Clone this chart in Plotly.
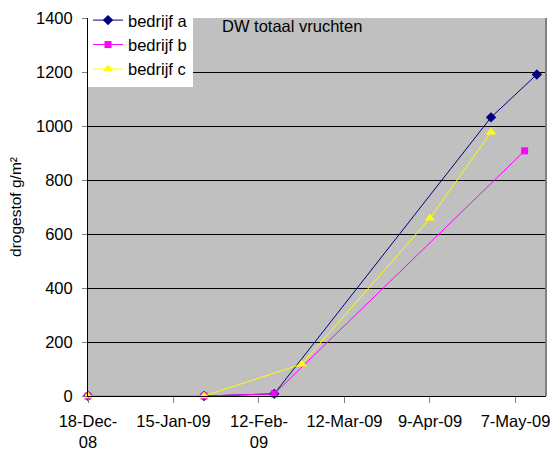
import plotly.graph_objects as go

# data
a_dates = ["2008-12-18", "2009-01-25", "2009-02-17", "2009-04-29", "2009-05-14"]
a_vals = [0, 0, 8, 1032, 1191]
b_dates = ["2008-12-18", "2009-01-25", "2009-02-17", "2009-05-10"]
b_vals = [0, 0, 8, 908]
c_dates = ["2008-12-18", "2009-01-25", "2009-02-26", "2009-04-09", "2009-04-29"]
c_vals = [0, 0, 118, 658, 977]

tick_dates = ["2008-12-18", "2009-01-15", "2009-02-12", "2009-03-12", "2009-04-09", "2009-05-07"]
tick_labels = ["18-Dec-<br>08", "15-Jan-09", "12-Feb-<br>09", "12-Mar-09", "9-Apr-09", "7-May-09"]
x_range = ["2008-12-18", "2009-05-17"]

FONT = "Arial, Liberation Sans, sans-serif"

fig = go.Figure()
fig.add_trace(go.Scatter(x=a_dates, y=a_vals, name="bedrijf a", mode="lines+markers",
                         line=dict(color="#000080", width=1),
                         marker=dict(symbol="diamond", size=8, color="#000080"),
                         cliponaxis=False))
fig.add_trace(go.Scatter(x=b_dates, y=b_vals, name="bedrijf b", mode="lines+markers",
                         line=dict(color="#ff00ff", width=1),
                         marker=dict(symbol="square", size=7, color="#ff00ff"),
                         cliponaxis=False))
fig.add_trace(go.Scatter(x=c_dates, y=c_vals, name="bedrijf c", mode="lines+markers",
                         line=dict(color="#ffff00", width=1),
                         marker=dict(symbol="triangle-up", size=9, color="#ffff00"),
                         cliponaxis=False))

fig.update_layout(
    width=552, height=450, autosize=False,
    margin=dict(l=88, r=6, t=18, b=54, autoexpand=False),
    paper_bgcolor="white", plot_bgcolor="#c0c0c0",
    font=dict(family=FONT, size=16.5, color="black"),
    showlegend=True,
    legend=dict(x=0, y=1.04, xanchor="left", yanchor="top", bgcolor="white",
                borderwidth=0, font=dict(size=16.5), tracegroupgap=0),
    xaxis=dict(type="date", range=x_range, tickvals=tick_dates, ticktext=tick_labels,
               showgrid=False, showline=True, linecolor="black", linewidth=1,
               ticks="outside", ticklen=6, tickcolor="#808080", tickangle=0,
               ticklabelstandoff=4, zeroline=False, automargin=False),
    yaxis=dict(range=[0, 1400], dtick=200, tickformat="d",
               showgrid=True, gridcolor="black", gridwidth=1,
               showline=True, linecolor="black", linewidth=1,
               ticks="outside", ticklen=5, tickcolor="#808080",
               zeroline=False, ticklabelstandoff=6, automargin=False,
               title=dict(text="drogestof g/m²", font=dict(size=15.5), standoff=10)),
    annotations=[dict(text="DW totaal vruchten", x=0.288, y=0.979, xref="paper", yref="paper",
                      xanchor="left", yanchor="middle", showarrow=False,
                      font=dict(size=16.5, color="black"))],
    shapes=[dict(type="line", xref="paper", yref="paper", x0=1, x1=1, y0=0, y1=1,
                 line=dict(color="#808080", width=2))],
)

fig.write_html("out.html", config={"displayModeBar": False},
               post_script="document.body.style.margin='0';")
